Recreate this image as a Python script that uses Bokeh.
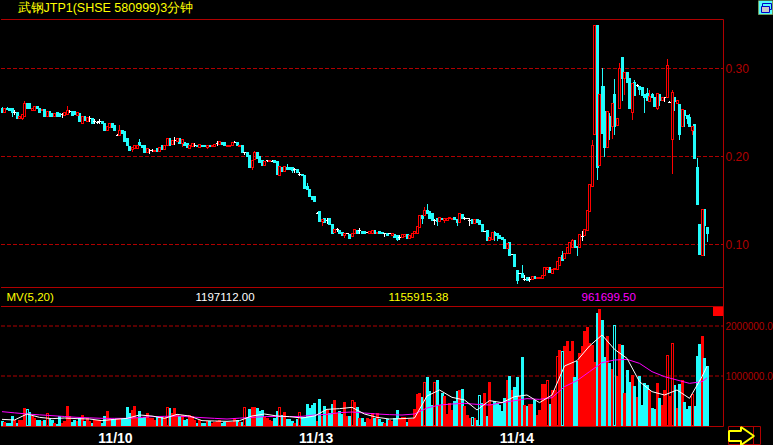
from bokeh.embed import file_html
from bokeh.resources import INLINE
from bokeh.plotting import figure
from bokeh.models import Range1d, FixedTicker, Label, LinearAxis, BoxAnnotation, PolyAnnotation
import math

# prices in thousandths of a yuan
opens = [255,250,255,255,254,250,250,243,243,246,
260,260,252,252,257,255,252,253,246,251,
249,245,250,249,248,247,248,251,251,251,
247,249,237,246,240,243,243,240,239,240,
240,238,230,233,237,235,224,224,230,228,
220,211,208,209,209,216,213,212,205,207,
207,206,209,206,212,208,213,220,214,218,
217,220,215,216,215,209,211,213,213,210,
213,212,210,213,211,211,215,214,216,216,
211,211,212,216,216,211,213,204,204,201,
187,197,204,200,195,190,195,194,194,195,
194,178,187,183,188,188,187,185,185,180,
180,178,166,163,155,154,135,137,126,130,
127,129,123,114,117,116,114,110,112,111,
109,113,116,116,115,115,114,113,113,116,
113,115,114,112,113,112,110,111,110,108,
108,109,111,107,108,113,113,119,133,133,
139,138,135,127,130,126,130,127,127,129,
128,131,128,125,134,130,129,127,128,124,
128,127,123,115,116,105,106,114,113,110,
108,106,96,102,89,89,71,67,67,60,
63,60,60,64,61,61,61,65,72,74,
67,72,72,76,87,84,90,90,97,104,
98,97,109,110,116,138,166,225,349,190,
280,251,210,246,234,270,235,254,312,289,
295,289,250,284,281,280,278,271,272,262,
270,267,255,271,264,267,267,261,219,267,
260,259,234,252,247,244,229,236,188,123,
88,140,119]
closes = [250,255,253,252,250,250,243,245,248,260,
254,254,255,257,254,250,253,246,251,246,
245,249,246,246,248,250,252,251,247,248,
250,240,245,241,244,243,238,240,239,240,
237,229,234,237,233,230,224,229,226,217,
212,207,210,212,212,213,210,204,209,207,
207,207,206,210,208,213,220,212,218,218,
220,215,219,213,210,213,215,213,211,214,
211,211,212,211,213,214,215,217,214,212,
213,213,216,216,212,213,204,204,200,188,
196,204,198,193,190,194,195,196,194,193,
179,189,183,189,185,185,184,185,182,180,
178,164,162,154,151,149,135,126,128,125,
127,123,113,117,117,113,110,113,112,107,
113,117,113,116,113,112,114,115,116,113,
114,113,112,112,110,112,112,108,106,108,
111,111,107,110,113,115,121,133,130,139,
135,130,127,127,126,131,128,130,130,131,
130,128,125,135,129,130,129,127,124,128,
125,123,115,115,105,108,114,110,110,107,
106,96,101,88,89,75,59,67,62,60,
59,60,64,61,63,63,65,74,74,68,
72,73,81,85,82,90,97,102,105,97,
97,111,109,117,139,168,212,349,187,270,
226,210,251,229,260,234,243,300,289,295,
284,255,283,269,281,276,269,267,264,268,
267,257,272,264,267,267,303,261,273,262,
264,225,253,247,243,234,234,198,145,89,
140,122,113]
highs = [256,255,256,255,254,252,250,245,248,263,
260,260,255,257,257,255,253,253,251,251,
249,249,250,249,249,250,257,252,251,251,
250,249,245,246,244,246,243,242,240,242,
240,238,234,237,237,235,225,235,230,228,
220,211,210,212,212,219,213,212,209,208,
208,207,209,210,212,213,220,220,218,222,
220,220,219,216,215,213,215,215,213,214,
213,212,212,213,213,214,217,217,216,216,
213,213,216,217,216,213,213,205,204,201,
196,206,204,200,195,194,196,196,195,195,
194,189,187,189,191,188,187,186,185,182,
180,178,169,163,155,154,136,137,128,130,
130,129,123,117,118,116,114,113,112,111,
113,117,116,118,115,115,114,115,116,116,
114,115,114,113,113,112,112,111,110,110,
111,111,111,110,113,115,121,133,133,142,
146,138,135,128,130,131,130,130,130,131,
130,131,128,135,134,131,129,129,128,128,
128,127,123,115,116,108,114,115,113,110,
108,106,101,102,89,89,71,67,76,65,
63,62,64,64,63,63,65,74,74,74,
72,73,81,85,92,90,97,102,106,104,
98,111,115,117,139,168,218,349,349,270,
300,280,251,249,260,288,243,306,312,295,
295,289,283,286,282,280,278,271,277,275,
272,267,272,271,267,267,310,262,275,267,
264,259,253,252,247,248,234,236,198,123,
140,140,119]
lows = [250,250,253,252,245,248,243,243,242,246,
254,254,252,252,254,250,252,246,246,246,
245,245,246,246,244,247,248,250,247,248,
247,240,237,241,240,240,238,238,238,238,
237,229,230,233,233,230,224,224,226,217,
212,207,206,209,209,213,210,204,205,203,
206,206,206,206,208,208,213,212,214,214,
217,215,211,213,210,209,211,211,211,210,
211,211,209,211,211,211,213,214,214,212,
211,211,212,216,212,211,204,202,200,188,
185,197,198,193,190,190,194,194,194,193,
179,178,183,183,185,185,182,182,182,178,
178,164,162,154,151,149,135,126,122,125,
124,123,113,114,115,113,110,108,112,107,
109,113,113,113,113,112,114,113,113,113,
113,113,112,109,110,112,110,108,104,106,
108,109,107,107,108,113,113,119,124,133,
135,130,127,123,122,126,128,125,127,129,
128,128,122,125,129,128,129,122,124,124,
125,123,115,115,105,105,106,105,105,107,
106,96,96,88,89,75,56,67,62,59,
59,58,60,61,61,61,61,65,72,68,
67,72,72,76,82,84,90,90,97,97,
88,97,104,110,116,138,166,225,174,190,
226,200,210,219,220,225,235,254,264,270,
284,255,242,269,280,270,269,250,264,262,
267,257,253,258,264,263,267,261,181,252,
260,219,234,234,238,234,225,198,145,89,
88,88,103]
# volume in thousands
volumes = [87,67,53,53,187,120,53,120,120,360,
333,267,187,153,120,120,87,120,253,133,
107,53,33,187,53,87,400,187,67,120,
87,153,213,87,153,87,53,107,107,120,
53,200,300,153,133,133,133,133,133,133,
367,253,320,400,153,300,153,167,253,153,
153,107,167,153,167,167,373,353,253,353,
220,187,213,120,133,213,187,120,53,107,
53,53,87,87,53,67,87,120,53,67,
67,67,67,153,107,67,67,373,173,333,
373,373,353,287,320,173,153,120,87,153,
300,373,220,267,133,133,100,53,133,273,
173,173,440,353,420,453,100,540,187,400,
320,253,440,520,253,287,240,480,187,200,
520,480,373,153,153,67,153,133,253,153,
253,133,67,53,133,107,87,153,320,153,
173,173,67,133,133,333,640,653,573,873,
973,687,420,873,920,420,653,587,240,453,
320,487,700,720,733,387,220,160,173,153,
107,620,453,653,187,873,420,487,453,420,
300,553,920,987,720,767,973,587,1373,420,
400,440,440,520,220,320,833,833,920,440,
720,720,1400,1520,1500,1600,1700,1487,1700,973,
1287,1453,1587,1887,1973,1653,1620,1273,2253,2333,
2120,1367,1787,1253,1140,2020,1000,1640,1620,653,
1120,873,1020,787,573,987,420,853,820,720,
353,333,853,553,420,720,1420,587,1653,820,
353,833,920,467,333,400,640,387,1387,1640,
1800,1353,1200]
vol_hollow = [10,18,66,97,111,119,140,169,173,188,191,218,222,224,245,266,268,276]
ma_bars = [0,5,10,15,20,25,30,35,40,45,50,55,60,65,70,75,80,85,90,95,100,105,110,115,120,125,130,135,
           140,145,150,155,160,165,170,175,180,185,190,195,200,205,210,215,220,225,230,235,240,245,
           250,255,260,265,270,275,280,282]
ma5 = [133,120,240,173,147,160,147,140,107,133,153,220,200,153,233,200,107,100,93,107,200,240,200,187,160,200,333,347,
       373,240,173,140,147,160,600,720,573,520,320,507,467,587,620,467,620,1200,1307,1600,1820,1533,
       1353,887,687,620,720,553,987,1197]
ma20 = [287,263,240,223,207,190,173,163,153,153,153,170,187,193,200,183,167,153,140,157,173,187,193,187,193,220,233,267,
        280,260,240,227,220,240,360,420,440,453,433,420,467,507,547,533,567,787,907,1087,1267,1320,
        1333,1253,1087,987,920,853,887,962]
date_labels = {45.4: "11/10", 125.7: "11/13", 206: "11/14"}
price_ticks = [0.10, 0.20, 0.30]
vol_ticks = [1000000, 2000000]
title_text = "武钢JTP1(SHSE 580999)3分钟"
status_texts = ["MV(5,20)", "1197112.00", "1155915.38", "961699.50"]

RED, DARK, CYAN, MAG, YEL = "#ff0000", "#b00000", "#22fcfc", "#ff00ff", "#ffff00"
FONT = "Liberation Sans"

# the frame is the whole window: 2.5 px per bar, 880 px per yuan, 1 px per 20000 shares;
# the ranges sit half a pixel over, as glyphs are painted half a pixel on from their coordinates
XMIN, XMAX = -0.6, 308.6
PMAX, PMIN = 0.30 + 68 / 880, 0.30 - (445 - 68) / 880
VMAX, VMIN = 8510000, -390000
PX = 1 / 2.5  # one pixel along x, in bars

# the original is a raster drawing: snap marks to whole pixels through these
def snap_x(i):
    return (math.floor(2.5 * i) + 0.5) / 2.5

def row_p(v):
    return math.floor((0.30 - v) * 880 + 68.5)

def price_at(row):
    return 0.30 - (row - 68.5) / 880

def row_v(v):
    return min(425, math.floor(426 - v / 20000))

def vol_at(row):
    return (426 - row) * 20000

n = len(opens)
bars = list(range(n))
kind = ["#ffffff" if a == b else (RED if b > a else CYAN) for a, b in zip(opens, closes)]
xs = [snap_x(i) for i in bars]
rows_top = [row_p(max(a, b) / 1000) for a, b in zip(opens, closes)]
rows_bot = [row_p(min(a, b) / 1000) + 1 for a, b in zip(opens, closes)]
rows_h = [row_p(v / 1000) for v in highs]
rows_l = [row_p(v / 1000) + 1 for v in lows]

p = figure(frame_width=773, frame_height=445, min_border=0, output_backend="svg", toolbar_location=None,
           x_range=Range1d(XMIN, XMAX), y_range=Range1d(PMIN, PMAX),
           background_fill_color="#000000", border_fill_color="#000000", outline_line_color=None,
           y_axis_location=None)
p.extra_y_ranges = {"vol": Range1d(VMIN, VMAX)}
p.xgrid.visible = False
p.ygrid.visible = False

axis_x = 288.6
xa = p.xaxis[0]
xa.fixed_location = 0.30 - (426.5 - 68.5) / 880
xa.ticker = FixedTicker(ticks=list(date_labels))
xa.major_label_overrides = date_labels
xa.major_label_text_color = "#ffffff"
xa.major_label_text_font = FONT
xa.major_label_text_font_size = "14px"
xa.major_label_text_font_style = "bold"
xa.major_label_standoff = 3
xa.axis_line_color = None
xa.major_tick_line_color = None
xa.minor_tick_line_color = None
xa.major_tick_out = 0
xa.major_tick_in = 0

price_axis = LinearAxis(ticker=FixedTicker(ticks=price_ticks),
                        major_label_overrides={t: f"{t:.2f}" for t in price_ticks},
                        major_label_text_font_size="12px")
vol_axis = LinearAxis(y_range_name="vol", ticker=FixedTicker(ticks=vol_ticks),
                      major_label_overrides={t: f"{t}.0" for t in vol_ticks},
                      major_label_text_font_size="10px")
for ax in (price_axis, vol_axis):
    ax.fixed_location = axis_x
    ax.axis_line_color = None
    ax.major_tick_line_color = None
    ax.minor_tick_line_color = None
    ax.major_tick_out = 0
    ax.major_tick_in = 0
    ax.major_label_text_color = DARK
    ax.major_label_text_font = FONT
    ax.major_label_standoff = 2
    p.add_layout(ax, "right")

# grid lines and panel separators
grid_x0 = -0.4
p.segment([grid_x0] * 3, price_ticks, [axis_x] * 3, price_ticks, line_color=DARK, line_dash="4 2", line_width=1)
p.segment([grid_x0] * 2, vol_ticks, [axis_x] * 2, vol_ticks, line_color=DARK, line_dash="4 2", line_width=1, y_range_name="vol")
top_line = 0.30 + (68.5 - 19.5) / 880
sep_prices = [top_line, 0.30 - 219 / 880]
p.segment([grid_x0] * 2, sep_prices, [axis_x] * 2, sep_prices, line_color=DARK, line_width=1)
sep_vols = [2390000, -10000]
p.segment([grid_x0] * 2, sep_vols, [axis_x] * 2, sep_vols, line_color=DARK, line_width=1, y_range_name="vol")
p.segment([axis_x], [top_line], [axis_x], [xa.fixed_location], line_color=DARK, line_width=1)

# candles: wicks stop at the body, so an up candle's core stays black
wx, wy0, wy1, wc = [], [], [], []
for i in bars:
    if rows_h[i] < rows_top[i]:
        wx.append(xs[i]); wy0.append(rows_h[i]); wy1.append(rows_top[i]); wc.append(kind[i])
    if rows_l[i] > rows_bot[i]:
        wx.append(xs[i]); wy0.append(rows_bot[i]); wy1.append(rows_l[i]); wc.append(kind[i])
p.segment(wx, [price_at(r) for r in wy0], wx, [price_at(r) for r in wy1], line_color=wc, line_width=1)

# outlined bodies: two sides, a top and a bottom
def outline(idx, x_of, top_of, bot_of, color_of, to_y, y_range="default"):
    ox0, oy0, ox1, oy1, oc = [], [], [], [], []
    for i in idx:
        x, t, b, col = x_of(i), top_of(i), bot_of(i), color_of(i)
        for side in (-PX, PX):
            ox0.append(x + side); oy0.append(t); ox1.append(x + side); oy1.append(b); oc.append(col)
        for row in (t + 0.5, b - 0.5):
            ox0.append(x - 1.5 * PX); oy0.append(row); ox1.append(x + 1.5 * PX); oy1.append(row); oc.append(col)
    p.segment(ox0, [to_y(r) for r in oy0], ox1, [to_y(r) for r in oy1], line_color=oc, line_width=1, y_range_name=y_range)

solid = [i for i in bars if kind[i] != RED or rows_bot[i] - rows_top[i] < 3]
hollow = [i for i in bars if i not in solid]
p.segment([xs[i] for i in solid], [price_at(rows_top[i]) for i in solid],
          [xs[i] for i in solid], [price_at(rows_bot[i]) for i in solid],
          line_color=[kind[i] for i in solid], line_width=3)
outline(hollow, lambda i: xs[i], lambda i: rows_top[i], lambda i: rows_bot[i], lambda i: RED, price_at)

# volume
vcol = [CYAN if k == CYAN else RED for k in kind]
vrows = [row_v(v * 1000) for v in volumes]
vsolid = [i for i in bars if i not in vol_hollow]
p.segment([xs[i] for i in vsolid], [vol_at(vrows[i]) for i in vsolid],
          [xs[i] for i in vsolid], [0] * len(vsolid),
          line_color=[vcol[i] for i in vsolid], line_width=3, y_range_name="vol")
outline(vol_hollow, lambda i: xs[i], lambda i: vrows[i], lambda i: 426, lambda i: vcol[i], vol_at, "vol")
p.line(ma_bars, [v * 1000 for v in ma20], line_color=MAG, line_width=1, y_range_name="vol")
p.line(ma_bars, [v * 1000 for v in ma5], line_color="#ffffff", line_width=1, y_range_name="vol")

# screen units run from the frame's bottom-left corner
def sy(y):
    return 445 - y

def label(x, y, text, color, size):
    p.add_layout(Label(x=x, y=sy(y), x_units="screen", y_units="screen", text=text, text_color=color,
                       text_font=FONT, text_font_size=size, text_baseline="middle"))

label(17, 7, title_text, YEL, "12.5px")
for x, t, col in zip((6, 195, 388, 581), status_texts, (YEL, "#ffffff", YEL, MAG)):
    label(x, 296, t, col, "11.5px")

def box(x0, x1, y0, y1, fill, line=None):
    p.add_layout(BoxAnnotation(left=x0, right=x1, top=sy(y0), bottom=sy(y1), left_units="screen",
                               right_units="screen", top_units="screen", bottom_units="screen",
                               fill_color=fill, fill_alpha=1, line_color=line, line_alpha=1, line_width=1))

box(712.5, 722.5, 306.5, 315.5, RED)
box(758, 772, 0, 14, "#54fcfc", "#70a060")
box(762, 771, 3, 9, "#54fcfc", "#0000c8")
box(761, 769, 6, 12, "#c8c8c8", "#0000c8")
box(728, 760, 426, 444, "#000000", DARK)
box(753, 753, 426, 444, DARK, DARK)
p.add_layout(PolyAnnotation(xs=[728.5, 740.5, 740.5, 753.5, 740.5, 740.5, 728.5],
                            ys=[sy(v) for v in (430.5, 430.5, 426.5, 435.5, 444.5, 440.5, 440.5)],
                            xs_units="screen", ys_units="screen", fill_color="#000000", fill_alpha=1,
                            line_color=YEL, line_alpha=1, line_width=2))

html = file_html(p, INLINE)
html = html.replace("</head>", "<style>html,body{margin:0;padding:0;background:#000;overflow:hidden}</style></head>")
open("out.html", "w").write(html)
